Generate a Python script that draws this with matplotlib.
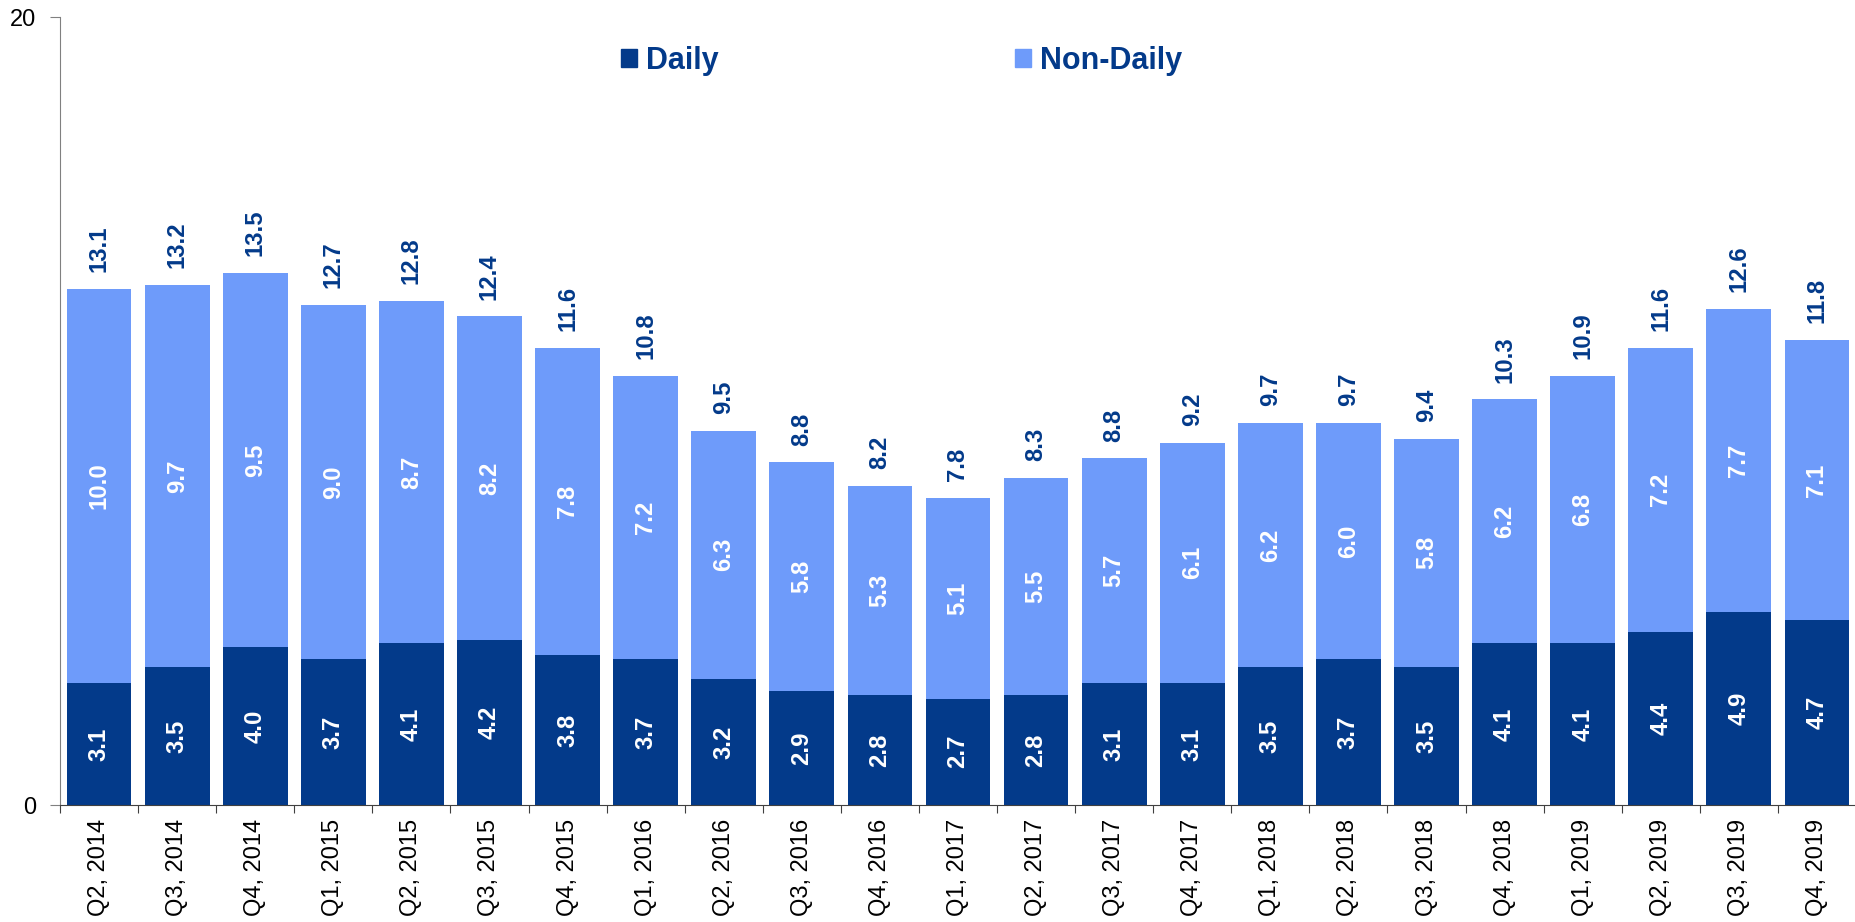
import numpy as np
import matplotlib.pyplot as plt
from matplotlib.patches import Patch

quarters = ["Q2, 2014", "Q3, 2014", "Q4, 2014",
            "Q1, 2015", "Q2, 2015", "Q3, 2015", "Q4, 2015",
            "Q1, 2016", "Q2, 2016", "Q3, 2016", "Q4, 2016",
            "Q1, 2017", "Q2, 2017", "Q3, 2017", "Q4, 2017",
            "Q1, 2018", "Q2, 2018", "Q3, 2018", "Q4, 2018",
            "Q1, 2019", "Q2, 2019", "Q3, 2019", "Q4, 2019"]
daily = [3.1, 3.5, 4.0, 3.7, 4.1, 4.2, 3.8, 3.7, 3.2, 2.9, 2.8, 2.7,
         2.8, 3.1, 3.1, 3.5, 3.7, 3.5, 4.1, 4.1, 4.4, 4.9, 4.7]
non_daily = [10.0, 9.7, 9.5, 9.0, 8.7, 8.2, 7.8, 7.2, 6.3, 5.8, 5.3, 5.1,
             5.5, 5.7, 6.1, 6.2, 6.0, 5.8, 6.2, 6.8, 7.2, 7.7, 7.1]
totals = [13.1, 13.2, 13.5, 12.7, 12.8, 12.4, 11.6, 10.8, 9.5, 8.8, 8.2, 7.8,
          8.3, 8.8, 9.2, 9.7, 9.7, 9.4, 10.3, 10.9, 11.6, 12.6, 11.8]

dark = "#033A8A"
light = "#6E9BFA"

plt.rcParams['font.family'] = ['Liberation Sans', 'DejaVu Sans']

fig = plt.figure(figsize=(18.56, 9.22), dpi=100)
ax = fig.add_axes([60 / 1856, 117 / 922, 1796 / 1856, 788 / 922])

x = np.arange(len(quarters))
w = 0.83
ax.bar(x, daily, w, color=dark, label="Daily")
ax.bar(x, non_daily, w, bottom=daily, color=light, label="Non-Daily")

lbl = dict(rotation=90, ha='center', fontweight='bold', fontsize=17.2)
for i in range(len(x)):
    ax.text(x[i], daily[i] / 2, f"{daily[i]:.1f}", va='center', color='white', **lbl)
    ax.text(x[i], daily[i] + non_daily[i] / 2, f"{non_daily[i]:.1f}",
            va='center', color='white', **lbl)
    ax.annotate(f"{totals[i]:.1f}", (x[i], daily[i] + non_daily[i]),
                xytext=(0, 12), textcoords='offset points',
                va='bottom', color=dark, **lbl)

ax.set_xlim(-0.5, len(x) - 0.5)
ax.set_ylim(0, 20)
ax.set_yticks([0, 20])
ax.tick_params(axis='y', labelsize=17, length=7, pad=10, color='#808080')

ax.set_xticks(np.arange(len(x) + 1) - 0.5)
ax.set_xticklabels([])
ax.set_xticks(x, minor=True)
ax.set_xticklabels(quarters, minor=True, rotation=90, fontsize=17)
ax.tick_params(axis='x', which='major', length=6, color='#404040')
ax.tick_params(axis='x', which='minor', length=0, pad=10)

ax.spines['top'].set_visible(False)
ax.spines['right'].set_visible(False)
ax.spines['left'].set_color('#808080')
ax.spines['bottom'].set_color('#404040')

handles = [Patch(color=dark), Patch(color=light)]
leg = ax.legend(handles, ["Daily", "Non-Daily"], loc='center left',
                bbox_to_anchor=((606 - 60) / 1796, (805 - 61) / 788), ncol=2,
                frameon=False, handlelength=0.52, handleheight=0.52,
                handletextpad=0.3, columnspacing=9.7, borderpad=0,
                prop={'weight': 'bold', 'size': 22})
for t in leg.get_texts():
    t.set_color(dark)

fig.savefig("out.png", dpi=100)
